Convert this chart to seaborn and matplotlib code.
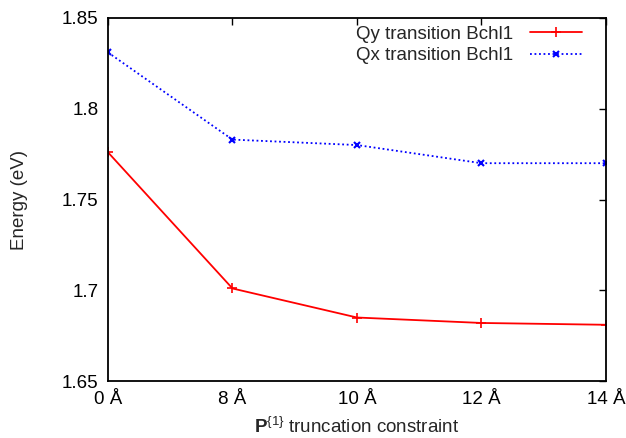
import matplotlib
matplotlib.use("Agg")
import matplotlib.pyplot as plt
import pandas as pd
import seaborn as sns

# values
cutoffs = ["0 Å", "8 Å", "10 Å", "12 Å", "14 Å"]
qy_energy = [1.776, 1.701, 1.685, 1.682, 1.681]
qx_energy = [1.831, 1.783, 1.780, 1.770, 1.770]
y_ticks = [1.65, 1.7, 1.75, 1.8, 1.85]
y_tick_labels = ["1.65", "1.7", "1.75", "1.8", "1.85"]

sns.set_style("white")
plt.rcParams["font.family"] = ["Liberation Sans", "DejaVu Sans"]
plt.rcParams["mathtext.fontset"] = "custom"
plt.rcParams["mathtext.rm"] = "Liberation Sans"
plt.rcParams["mathtext.bf"] = "Liberation Sans:bold"

FS = 13.5

df = pd.DataFrame({
    "pos": list(range(len(cutoffs))) * 2,
    "energy": qy_energy + qx_energy,
    "series": ["Qy transition Bchl1"] * len(cutoffs) + ["Qx transition Bchl1"] * len(cutoffs),
})

fig = plt.figure(figsize=(6.26, 4.38), dpi=100)
ax = fig.add_axes([0.1725, 0.130, 0.7955, 0.829])

sns.lineplot(data=df[df.series == "Qy transition Bchl1"], x="pos", y="energy", ax=ax,
             color="red", marker="+", markersize=7, markeredgewidth=1.2,
             markeredgecolor="red", linewidth=1.3, label="Qy transition Bchl1")
sns.lineplot(data=df[df.series == "Qx transition Bchl1"], x="pos", y="energy", ax=ax,
             color="blue", marker="x", markersize=5, markeredgewidth=1.5,
             markeredgecolor="blue", linewidth=1.3, linestyle=(0, (1, 1.5)),
             label="Qx transition Bchl1")

ax.set_xlim(0, len(cutoffs) - 1)
ax.set_ylim(1.65, 1.85)
ax.set_xticks(range(len(cutoffs)))
ax.set_xticklabels(cutoffs)
ax.set_yticks(y_ticks)
ax.set_yticklabels(y_tick_labels)
ax.tick_params(direction="in", length=5, width=1, top=True, right=True,
               labelsize=FS, colors="black", pad=7)
for s in ax.spines.values():
    s.set_color("black")
    s.set_linewidth(1.3)

ax.set_xlabel(r"$\mathbf{P}^{\{1\}}$ truncation constraint", fontsize=FS, labelpad=6)
ax.set_ylabel("Energy (eV)", fontsize=FS, labelpad=24)

leg = ax.legend(loc="upper right", frameon=False, markerfirst=False, fontsize=FS,
                handlelength=2.8, handletextpad=0.85, labelspacing=0.22,
                borderaxespad=0, bbox_to_anchor=(0.967, 0.999))

fig.savefig("out.png", dpi=100)
